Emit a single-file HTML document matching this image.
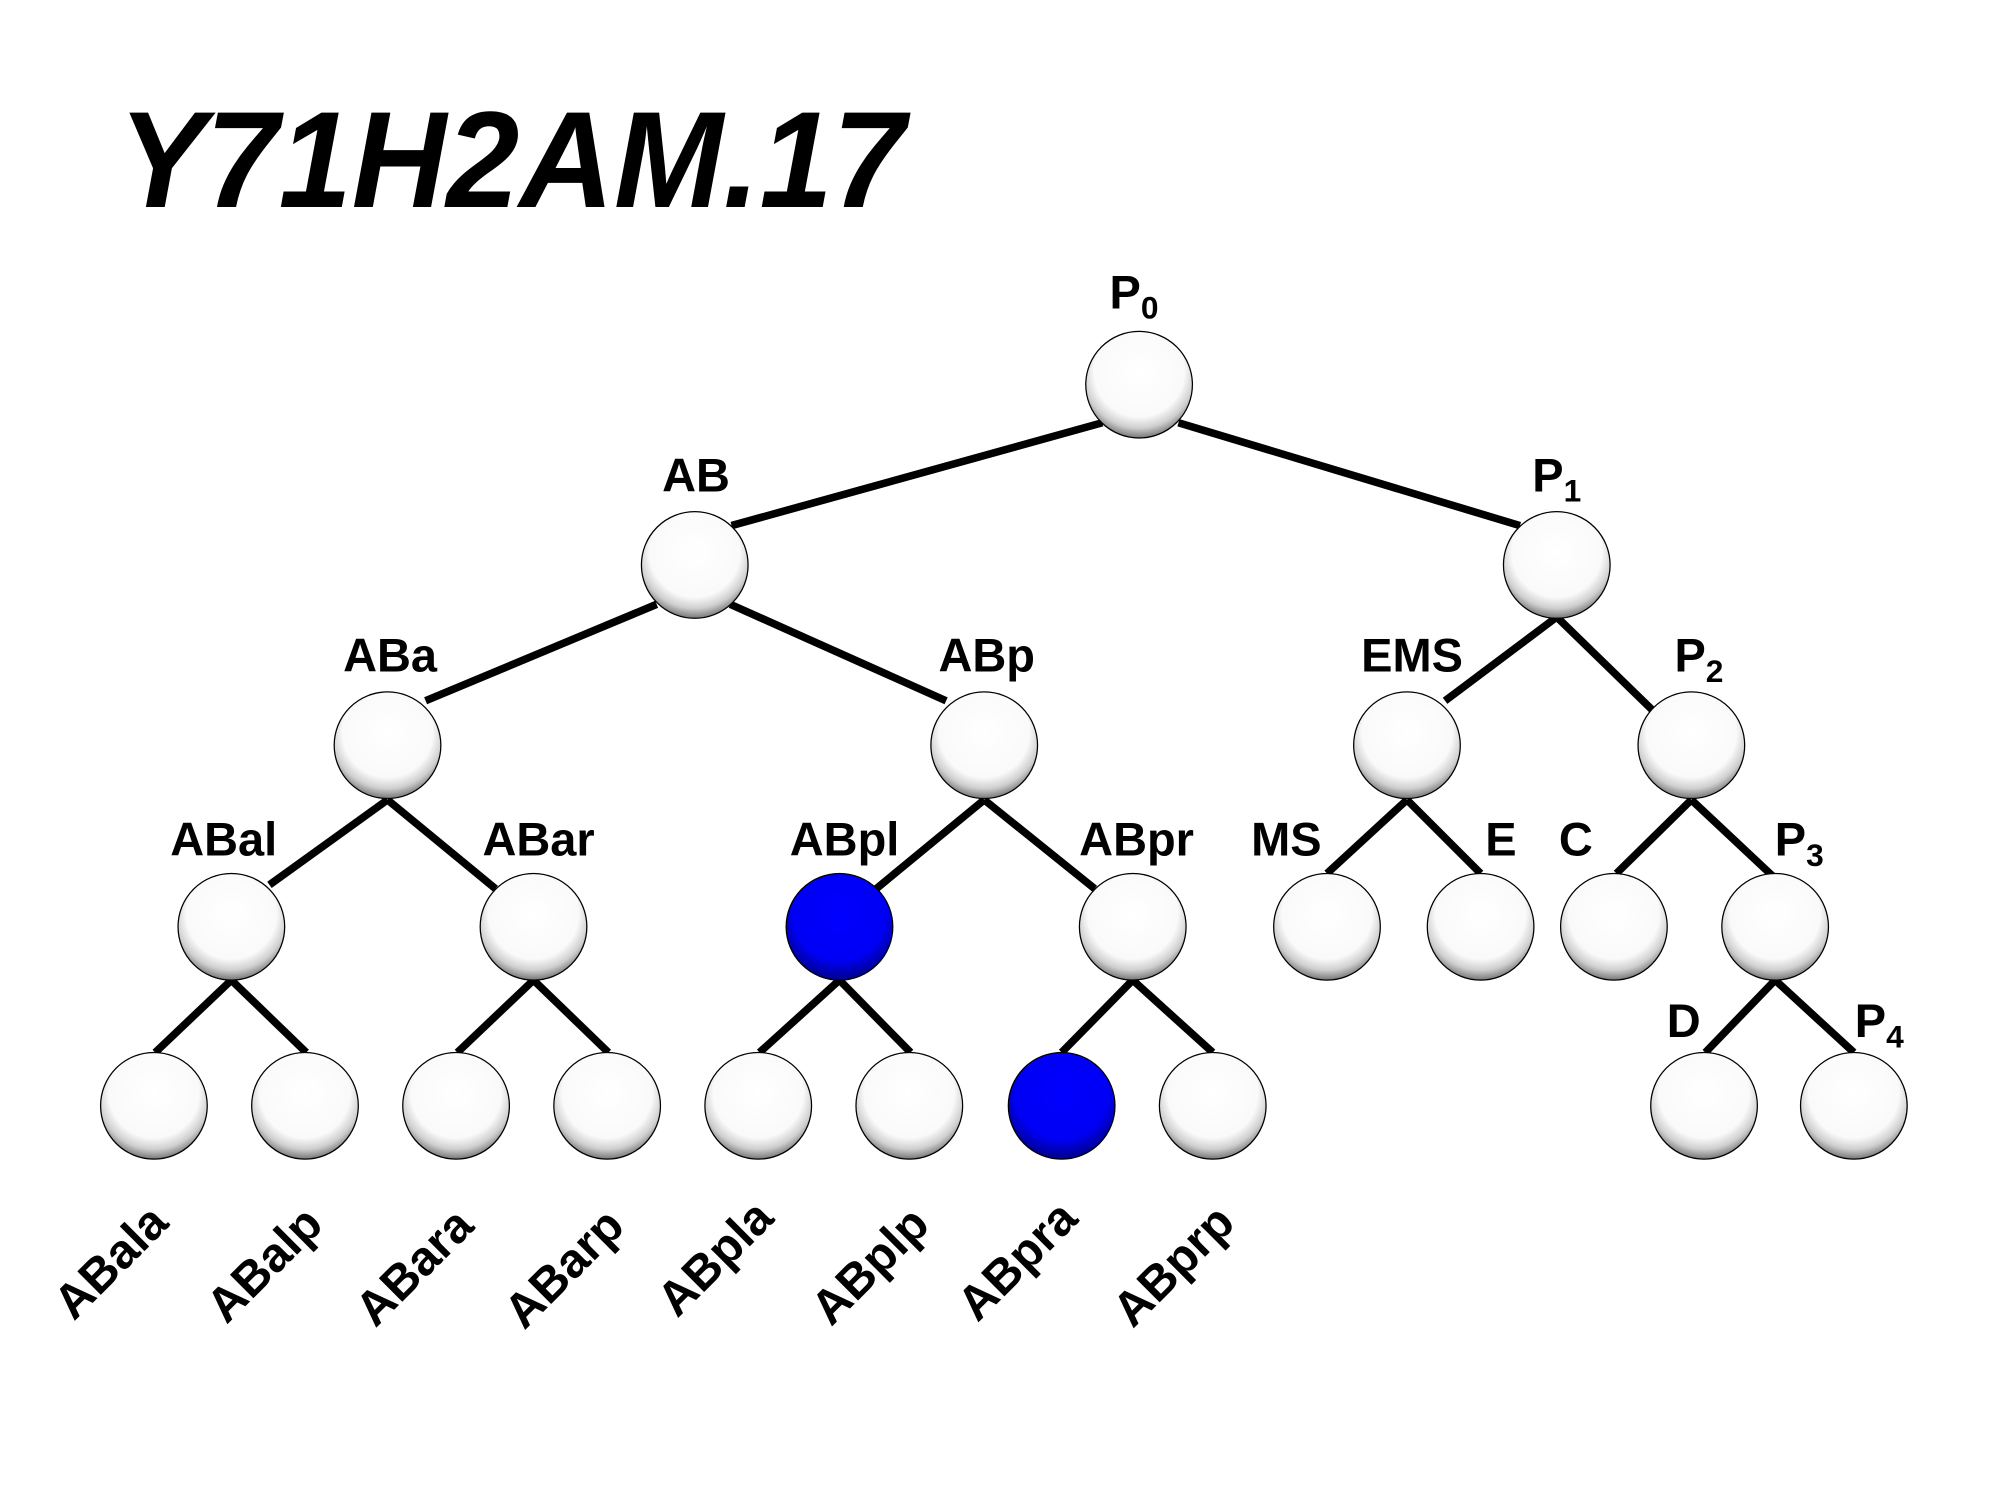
<!DOCTYPE html>
<html><head><meta charset="utf-8"><style>html,body{margin:0;padding:0;background:#fff}svg{display:block}</style></head>
<body>
<svg width="1990" height="1493" viewBox="0 0 1567 1176" xmlns="http://www.w3.org/2000/svg" font-family="'Liberation Sans', Arial, sans-serif" font-weight="bold">
<defs>
<radialGradient id="w" cx="50%" cy="38%" r="62%">
<stop offset="0" stop-color="#fff"/><stop offset="0.68" stop-color="#fafafa"/><stop offset="0.85" stop-color="#cfcfcf"/><stop offset="1" stop-color="#777"/>
</radialGradient>
<radialGradient id="b" cx="50%" cy="38%" r="62%">
<stop offset="0" stop-color="#0000ff"/><stop offset="0.7" stop-color="#0000f5"/><stop offset="1" stop-color="#00008a"/>
</radialGradient>
</defs>
<text x="93" y="163" font-size="108" font-style="italic" textLength="620" lengthAdjust="spacingAndGlyphs">Y71H2AM.17</text>
<g stroke="#000" stroke-width="6" stroke-linecap="butt">
<line x1="868" y1="333" x2="576" y2="414"/>
<line x1="928" y1="333" x2="1197" y2="414"/>
<line x1="517" y1="476" x2="335" y2="552"/>
<line x1="575" y1="476" x2="745" y2="552"/>
<line x1="1226" y1="486" x2="1138" y2="552"/>
<line x1="1226" y1="486" x2="1302" y2="560"/>
<line x1="305" y1="630" x2="212" y2="697"/>
<line x1="305" y1="630" x2="390" y2="700"/>
<line x1="775" y1="630" x2="690" y2="700"/>
<line x1="775" y1="630" x2="862" y2="700"/>
<line x1="1108" y1="630" x2="1045" y2="688"/>
<line x1="1108" y1="630" x2="1166" y2="688"/>
<line x1="1332" y1="630" x2="1273" y2="688"/>
<line x1="1332" y1="630" x2="1396" y2="690"/>
<line x1="182" y1="772" x2="122" y2="829"/><line x1="182" y1="772" x2="241" y2="829"/>
<line x1="420" y1="772" x2="360" y2="829"/><line x1="420" y1="772" x2="479" y2="829"/>
<line x1="661" y1="772" x2="598" y2="829"/><line x1="661" y1="772" x2="717" y2="829"/>
<line x1="892" y1="772" x2="836" y2="829"/><line x1="892" y1="772" x2="955" y2="829"/>
<line x1="1398" y1="772" x2="1343" y2="829"/><line x1="1398" y1="772" x2="1460" y2="829"/>
</g>
<g stroke="#000" stroke-width="1" fill="url(#w)">
<circle cx="897" cy="303" r="42"/>
<circle cx="547" cy="445" r="42"/><circle cx="1226" cy="445" r="42"/>
<circle cx="305" cy="587" r="42"/><circle cx="775" cy="587" r="42"/><circle cx="1108" cy="587" r="42"/><circle cx="1332" cy="587" r="42"/>
<circle cx="182" cy="730" r="42"/><circle cx="420" cy="730" r="42"/><circle cx="661" cy="730" r="42" fill="url(#b)"/><circle cx="892" cy="730" r="42"/>
<circle cx="1045" cy="730" r="42"/><circle cx="1166" cy="730" r="42"/><circle cx="1271" cy="730" r="42"/><circle cx="1398" cy="730" r="42"/>
<circle cx="121" cy="871" r="42"/><circle cx="240" cy="871" r="42"/><circle cx="359" cy="871" r="42"/><circle cx="478" cy="871" r="42"/>
<circle cx="597" cy="871" r="42"/><circle cx="716" cy="871" r="42"/><circle cx="836" cy="871" r="42" fill="url(#b)"/><circle cx="955" cy="871" r="42"/>
<circle cx="1342" cy="871" r="42"/><circle cx="1460" cy="871" r="42"/>
</g>
<g font-size="37" text-anchor="middle">
<text x="893" y="243">P<tspan font-size="25" dy="8">0</tspan></text>
<text x="548" y="387">AB</text>
<text x="1226" y="387">P<tspan font-size="25" dy="8">1</tspan></text>
<text x="307" y="529">ABa</text>
<text x="777" y="529">ABp</text>
<text x="1112" y="529">EMS</text>
<text x="1338" y="529">P<tspan font-size="25" dy="8">2</tspan></text>
<text x="176" y="674">ABal</text>
<text x="424" y="674">ABar</text>
<text x="665" y="674">ABpl</text>
<text x="895" y="674">ABpr</text>
<text x="1013" y="674">MS</text>
<text x="1182" y="674">E</text>
<text x="1241" y="674">C</text>
<text x="1417" y="674">P<tspan font-size="25" dy="8">3</tspan></text>
<text x="1326" y="817">D</text>
<text x="1480" y="817">P<tspan font-size="25" dy="8">4</tspan></text>
</g>
<g font-size="38" text-anchor="middle">
<text transform="translate(96,1003) rotate(-45)">ABala</text>
<text transform="translate(217,1005) rotate(-45)">ABalp</text>
<text transform="translate(335,1007) rotate(-45)">ABara</text>
<text transform="translate(453,1008) rotate(-45)">ABarp</text>
<text transform="translate(572,1000) rotate(-45)">ABpla</text>
<text transform="translate(694,1006) rotate(-45)">ABplp</text>
<text transform="translate(810,1002) rotate(-45)">ABpra</text>
<text transform="translate(933,1006) rotate(-45)">ABprp</text>
</g>
</svg>
</body></html>
